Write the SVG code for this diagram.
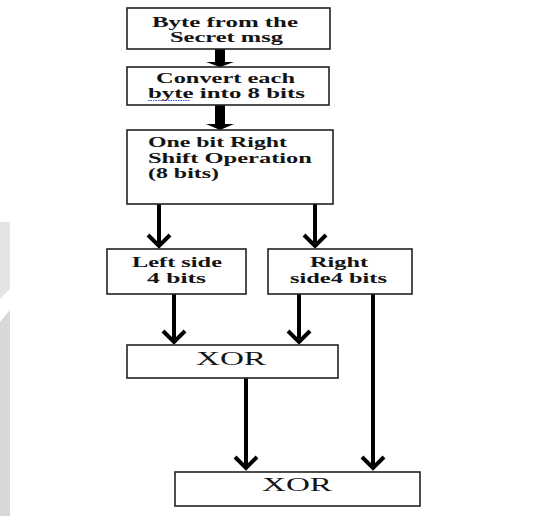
<svg xmlns="http://www.w3.org/2000/svg" width="551" height="516" viewBox="0 0 551 516">
  <defs>
    <style>
      .box { fill: #ffffff; stroke: #222222; stroke-width: 1.6; }
      .t { font-family: "Liberation Serif", "Times New Roman", serif; font-weight: bold; font-size: 15px; fill: #141414; }
      .x { font-family: "Liberation Serif", "Times New Roman", serif; font-size: 18px; fill: #141414; }
      .conn { stroke: #000000; stroke-width: 4; fill: none; }
      .thick { stroke: #000000; stroke-width: 10; fill: none; }
      .head { fill: #000000; }
    </style>
    <marker id="chev" markerUnits="userSpaceOnUse" markerWidth="30" markerHeight="30" refX="0" refY="0" orient="auto" overflow="visible">
      <path d="M -11,-11 L 0,0 L -11,11" fill="none" stroke="#000000" stroke-width="4" stroke-linejoin="miter"/>
    </marker>
  </defs>
  <rect width="551" height="516" fill="#ffffff"/>
  <g id="watermark">
    <polygon points="0,222 10,222 10,289 0,299" fill="#e4e4e4"/>
    <polygon points="0,322 10,310 10,516 0,516" fill="#d8d8d8"/>
  </g>
  <g id="connectors">
    <line class="thick" x1="220" y1="49" x2="220" y2="62"/>
    <polygon class="head" points="206,62 234,62 220,67"/>
    <line class="thick" x1="220" y1="105" x2="220" y2="124"/>
    <polygon class="head" points="206,124 234,124 220,130"/>
    <line class="conn" x1="159" y1="204" x2="159" y2="246" marker-end="url(#chev)"/>
    <line class="conn" x1="315" y1="204" x2="315" y2="246" marker-end="url(#chev)"/>
    <line class="conn" x1="174" y1="294" x2="174" y2="342" marker-end="url(#chev)"/>
    <line class="conn" x1="299" y1="294" x2="299" y2="342" marker-end="url(#chev)"/>
    <line class="conn" x1="246" y1="378" x2="246" y2="468" marker-end="url(#chev)"/>
    <line class="conn" x1="373" y1="294" x2="373" y2="468" marker-end="url(#chev)"/>
  </g>
  <g id="byte">
    <rect class="box" x="127" y="8" width="203" height="41"/>
    <text class="t" x="152" y="27" textLength="146" lengthAdjust="spacingAndGlyphs">Byte from the</text>
    <text class="t" x="170" y="42" textLength="113" lengthAdjust="spacingAndGlyphs">Secret msg</text>
  </g>
  <g id="convert">
    <rect class="box" x="127" y="67" width="202" height="38"/>
    <text class="t" x="156" y="83" textLength="139" lengthAdjust="spacingAndGlyphs">Convert each</text>
    <text class="t" x="148" y="98" textLength="157" lengthAdjust="spacingAndGlyphs">byte into 8 bits</text>
    <line x1="148" y1="100.5" x2="190" y2="100.5" stroke="#3355dd" stroke-width="1" stroke-dasharray="1.5 1"/>
  </g>
  <g id="shift">
    <rect class="box" x="127" y="130" width="206" height="74"/>
    <text class="t" x="148" y="147" textLength="139" lengthAdjust="spacingAndGlyphs">One bit Right</text>
    <text class="t" x="148" y="163" textLength="164" lengthAdjust="spacingAndGlyphs">Shift Operation</text>
    <text class="t" x="148" y="178" textLength="71" lengthAdjust="spacingAndGlyphs">(8 bits)</text>
  </g>
  <g id="left">
    <rect class="box" x="107" y="249" width="139" height="45"/>
    <text class="t" x="132" y="267" textLength="90" lengthAdjust="spacingAndGlyphs">Left side</text>
    <text class="t" x="147" y="283" textLength="59" lengthAdjust="spacingAndGlyphs">4 bits</text>
  </g>
  <g id="right">
    <rect class="box" x="268" y="249" width="144" height="45"/>
    <text class="t" x="310" y="267" textLength="58" lengthAdjust="spacingAndGlyphs">Right</text>
    <text class="t" x="290" y="283" textLength="97" lengthAdjust="spacingAndGlyphs">side4 bits</text>
  </g>
  <g id="xor1">
    <rect class="box" x="127" y="345" width="211" height="33"/>
    <text class="x" x="196" y="365" textLength="70" lengthAdjust="spacingAndGlyphs">XOR</text>
  </g>
  <g id="xor2">
    <rect class="box" x="175" y="472" width="245" height="34"/>
    <text class="x" x="262" y="491" textLength="70" lengthAdjust="spacingAndGlyphs">XOR</text>
  </g>
</svg>
